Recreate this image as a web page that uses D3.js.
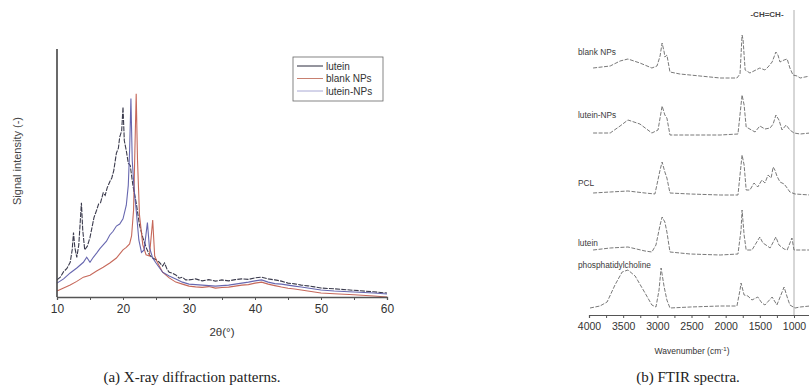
<!DOCTYPE html>
<html><head><meta charset="utf-8">
<script src="https://cdn.jsdelivr.net/npm/d3@7"></script>
<style>body{margin:0;background:#fff}svg{display:block}</style>
</head><body>
<script>
// ---------- XRD data (2θ in degrees, intensity in arbitrary units) ----------
const xrdTicks = [10, 20, 30, 40, 50, 60];
const xrdLutein = [[10,6.9],[10.5,8],[11,10.2],[11.5,11.5],[12,14],[12.3,19],[12.5,26],[12.7,20],[13,16],[13.3,21],[13.7,38],[13.9,27],[14.2,19],[14.6,20.5],[15,24],[15.3,28],[15.6,32],[16,35],[16.3,37.5],[16.6,38],[17,42],[17.3,41],[17.6,44],[18,46.5],[18.3,48],[18.6,51],[19,58],[19.3,60],[19.5,64.5],[19.8,67],[20,76.6],[20.2,63],[20.5,59],[20.8,54],[21.1,53],[21.5,45],[22,38],[22.5,29],[23,24],[23.5,20],[24,17],[24.5,15.7],[25,15],[25.5,14],[26,12.5],[26.3,13.7],[26.7,11],[27,10],[27.5,9.6],[28,8.9],[28.5,7.6],[29,8],[29.5,6.9],[30,6.9],[31,7.3],[32,6.5],[33,7],[34,6.4],[35,6.9],[36,6.5],[37,7],[38,7.3],[39,7.1],[40,7.7],[41,8],[42,7.3],[43,6.9],[44,6.4],[45,5.6],[46,5.3],[47,4.8],[48,4.5],[49,4.1],[50,3.6],[52,3.3],[54,2.9],[56,2.5],[58,2.1],[60,1.6]];
const xrdBlank = [[10,2.4],[11,3.6],[12,4.8],[13,6.3],[14,8],[15,8.8],[16,10.5],[17,12],[18,13.7],[19,15.7],[20,19],[20.5,20],[21,21.4],[21.3,24.6],[21.6,35],[21.8,59],[22,82],[22.2,55],[22.5,33],[23,21],[23.5,17],[24,16.5],[24.5,31],[24.8,16.5],[25.2,14],[26,10],[27,7.7],[28,6],[29,5.2],[30,4.4],[31,4.1],[32,3.9],[33,4.2],[34,3.6],[35,3.8],[36,4],[37,4.4],[38,4.8],[39,5],[40,5.6],[41,6],[42,5.2],[43,4.6],[44,4],[45,3.5],[46,3.2],[47,2.8],[48,2.4],[49,2],[50,1.6],[52,1.3],[55,0.9],[58,0.4],[60,0]];
const xrdLuteinNPs = [[10,5.6],[11,7.3],[12,9.7],[13,11.7],[14,14],[14.5,16],[15,14],[15.5,16],[16,17.7],[16.5,19.5],[17,21],[17.5,22.5],[18,25],[18.5,26.5],[19,28.6],[19.5,29.4],[20,31.5],[20.5,37],[20.8,45],[21,59],[21.2,80],[21.4,55],[21.7,43],[22,35],[22.4,23],[22.8,18],[23.2,19],[23.7,30],[24,20],[24.5,15.7],[25,13.7],[26,10],[27,8.5],[28,7.3],[29,6],[30,5.2],[31,5],[32,4.8],[33,4.6],[34,4.4],[35,4.6],[36,4.8],[37,5.2],[38,5.6],[39,6],[40,6.5],[41,6.9],[42,6],[43,5.4],[44,5.2],[45,4.8],[46,4.4],[47,4],[48,3.6],[49,3.2],[50,2.8],[52,2.4],[55,2],[58,1.6],[60,1.2]];
const xrdSeriesNames = ["lutein", "blank NPs", "lutein-NPs"];
const xrdColors = ["#26263a", "#c05848", "#5656a6"];
const xrdLegendColors = ["#2a2a3c", "#c88070", "#a8a8d4"];

// ---------- FTIR data (wavenumber cm-1, offset transmittance a.u.) ----------
const ftirTicks = [4000, 3500, 3000, 2500, 2000, 1500, 1000];
const ftirNames = ["blank NPs", "lutein-NPs", "PCL", "lutein", "phosphatidylcholine"];
const ftirBlank = [[3940,249],[3690,251],[3545,256],[3430,258],[3255,254],[3080,249],[3005,251],[2960,261],[2930,274],[2900,265],[2890,260],[2860,262],[2815,245],[2670,243],[2375,241],[2080,239],[1835,239],[1790,243],[1760,282],[1745,277],[1715,247],[1645,244],[1500,249],[1425,247],[1380,250],[1320,255],[1265,265],[1235,262],[1205,255],[1145,257],[1100,258],[1060,249],[1015,242],[955,241],[910,239],[840,240],[765,241]];
const ftirLuteinNPs = [[3940,184],[3690,184],[3545,191],[3430,197],[3255,193],[3080,184],[2990,187],[2930,211],[2890,202],[2860,199],[2815,182],[2670,182],[2080,182],[1820,183],[1760,222],[1730,212],[1700,190],[1570,185],[1500,191],[1425,188],[1350,189],[1305,193],[1265,202],[1220,197],[1175,187],[1115,192],[1060,187],[1000,184],[910,183],[765,184]];
const ftirPCL = [[3940,124],[3690,125],[3430,126],[3180,124],[3035,123],[2960,147],[2930,155],[2890,145],[2860,139],[2815,124],[2520,123],[2080,122],[1820,122],[1760,162],[1730,152],[1700,127],[1645,127],[1585,134],[1530,130],[1470,137],[1425,134],[1380,142],[1335,139],[1305,150],[1280,147],[1250,141],[1205,135],[1145,133],[1100,129],[1060,125],[985,123],[765,122]];
const ftirLutein = [[3940,67],[3690,69],[3430,70],[3180,66],[3080,65],[3020,72],[2960,92],[2930,100],[2890,95],[2860,85],[2815,65],[2520,63],[2080,62],[1820,63],[1775,87],[1760,107],[1730,82],[1700,67],[1615,67],[1500,80],[1455,74],[1410,72],[1350,69],[1265,80],[1220,72],[1145,68],[1100,67],[1030,79],[1000,67],[910,67],[765,67]];
const ftirPC = [[3985,9],[3840,11],[3735,15],[3620,32],[3515,45],[3430,47],[3325,41],[3180,24],[3080,12],[3020,10],[2975,27],[2945,49],[2900,30],[2860,17],[2815,9],[2520,10],[2080,11],[1835,11],[1790,27],[1775,34],[1730,22],[1675,21],[1615,17],[1530,20],[1470,14],[1425,12],[1320,20],[1250,12],[1145,30],[1100,20],[1060,12],[985,9],[910,10],[765,11]];
const ftirMarker = {label: "-CH=CH-", wavenumber: 1000};

const W = 809, H = 392;
const svg = d3.select("body").append("svg").attr("width", W).attr("height", H)
  .style("font-family", "Arial, 'Liberation Sans', sans-serif");

// ================= Panel (a): XRD =================
const xX = d3.scaleLinear().domain([10, 60]).range([57, 387]);
const xY = d3.scaleLinear().domain([0, 100]).range([297, 49]);
const gA = svg.append("g");

const xrdLine = d3.line().x(d => xX(d[0])).y(d => xY(d[1]));
[xrdLutein, xrdBlank, xrdLuteinNPs].forEach((s, i) => {
  gA.append("path").datum(s).attr("d", xrdLine).attr("fill", "none")
    .attr("stroke", xrdColors[i]).attr("stroke-width", 1.1)
    .attr("stroke-dasharray", i === 0 ? "5,1.2" : null).attr("opacity", 0.9);
});

const axA = gA.append("g").attr("transform", `translate(0,${xY(0)})`)
  .call(d3.axisBottom(xX).tickValues(d3.range(10, 61, 5)).tickSize(3)
    .tickFormat(d => xrdTicks.includes(d) ? d : ""));
axA.select(".domain").attr("stroke", "#555").attr("stroke-width", 1.3);
axA.selectAll(".tick line").attr("stroke", "#555");
axA.selectAll(".tick text").attr("font-size", 12).attr("fill", "#333").attr("dy", "0.85em");
gA.append("line").attr("x1", xX(10)).attr("x2", xX(10)).attr("y1", xY(0)).attr("y2", xY(100))
  .attr("stroke", "#444").attr("stroke-width", 1.6);

gA.append("text").attr("x", 222).attr("y", 336).attr("text-anchor", "middle")
  .attr("font-size", 11.5).attr("fill", "#333").text("2θ(°)");
gA.append("text").attr("transform", "translate(21,161) rotate(-90)").attr("text-anchor", "middle")
  .attr("font-size", 11).attr("fill", "#444").text("Signal intensity (-)");

// legend
const lg = gA.append("g").attr("transform", "translate(293,57)");
lg.append("rect").attr("width", 90).attr("height", 44).attr("fill", "#fff")
  .attr("stroke", "#666").attr("stroke-width", 0.8);
xrdSeriesNames.forEach((n, i) => {
  const y = 9 + i * 12.5;
  lg.append("line").attr("x1", 4).attr("x2", 30).attr("y1", y).attr("y2", y)
    .attr("stroke", xrdLegendColors[i]).attr("stroke-width", 1);
  lg.append("text").attr("x", 33).attr("y", y + 3.5).attr("font-size", 10)
    .attr("fill", "#333").text(n);
});

// ================= Panel (b): FTIR =================
const fX = d3.scaleLinear().domain([4000, 1000]).range([589, 794]);
const fY = d3.scaleLinear().domain([0, 300]).range([317, 17]);
const gB = svg.append("g");
const fLine = d3.line().x(d => fX(d[0])).y(d => fY(d[1]));
const ftirSeries = [ftirBlank, ftirLuteinNPs, ftirPCL, ftirLutein, ftirPC];
const labelY = [55, 118, 186, 246, 268];

gB.append("line").attr("x1", fX(ftirMarker.wavenumber)).attr("x2", fX(ftirMarker.wavenumber))
  .attr("y1", 10).attr("y2", 315).attr("stroke", "#999").attr("stroke-width", 0.8);
gB.append("text").attr("x", 767).attr("y", 17).attr("text-anchor", "middle")
  .attr("font-size", 8).attr("font-weight", "bold").attr("fill", "#444").text(ftirMarker.label);

ftirSeries.forEach((s, i) => {
  gB.append("path").datum(s).attr("d", fLine).attr("fill", "none")
    .attr("stroke", "#6a6a6a").attr("stroke-width", 0.9).attr("stroke-dasharray", "4,1.5");
  gB.append("text").attr("x", 578).attr("y", labelY[i]).attr("font-size", 8.3)
    .attr("fill", "#3a3a3a").text(ftirNames[i]);
});

const fXaxis = d3.scaleLinear().domain([4000, 500]).range([589, fX(500)]);
const axB = gB.append("g").attr("transform", "translate(0,315)")
  .call(d3.axisBottom(fXaxis).tickValues(d3.range(4000, 499, -250)).tickSize(3)
    .tickFormat(d => ftirTicks.includes(d) ? d : ""));
axB.select(".domain").attr("stroke", "#555").attr("stroke-width", 1.2);
axB.selectAll(".tick line").attr("stroke", "#555");
axB.selectAll(".tick text").attr("font-size", 10.5).attr("fill", "#333").attr("dy", "0.85em");

const wl = gB.append("text").attr("x", 692).attr("y", 354).attr("text-anchor", "middle")
  .attr("font-size", 8.5).attr("fill", "#333");
wl.append("tspan").text("Wavenumber (cm");
wl.append("tspan").attr("dy", -3).attr("font-size", 6).text("-1");
wl.append("tspan").attr("dy", 3).text(")");

// ================= Captions =================
svg.append("text").attr("x", 192).attr("y", 382).attr("text-anchor", "middle")
  .attr("font-family", "'Liberation Serif', 'Times New Roman', serif").attr("font-size", 15)
  .attr("fill", "#222").text("(a) X-ray diffraction patterns.");
svg.append("text").attr("x", 688).attr("y", 382).attr("text-anchor", "middle")
  .attr("font-family", "'Liberation Serif', 'Times New Roman', serif").attr("font-size", 15)
  .attr("fill", "#222").text("(b) FTIR spectra.");
</script>
</body></html>
